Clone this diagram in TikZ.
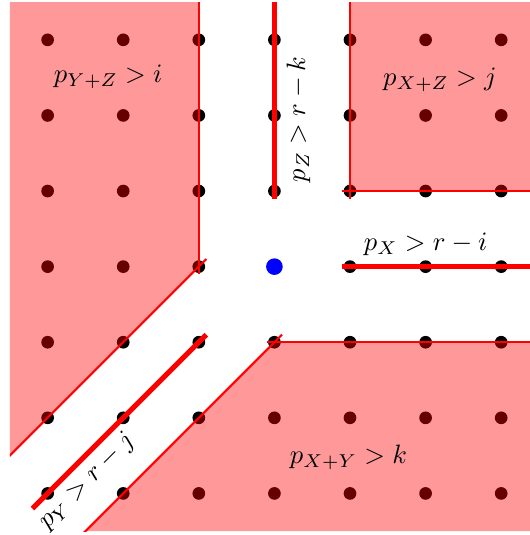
\documentclass[tikz,border=0pt]{standalone}
\begin{document}
\begin{tikzpicture}[x=1cm,y=1cm,
  gdot/.style={fill=black},
  region/.style={fill=red,fill opacity=0.4},
  bline/.style={draw=red,line width=0.8pt},
  tline/.style={draw=red,line width=1.9pt},
  lab/.style={font=\normalsize}]
\useasboundingbox (-3.63,-3.55) rectangle (3.368,3.527);
% grid dots
\foreach \x in {-3,...,3}{
  \foreach \y in {-3,...,3}{
    \fill[gdot] (\x,\y) circle (0.084);
  }
}
\node[circle,fill=blue,inner sep=0pt,minimum size=0.22cm] (o) at (0,0) {};
\begin{scope}
\clip (-3.5,-3.5) rectangle (3.5,3.5);
% regions
\fill[region] (-3.5,3.5) -- (-1,3.5) -- (-1,0) -- (-3.5,-2.5) -- cycle;
\fill[region] (1,3.5) -- (3.5,3.5) -- (3.5,1) -- (1,1) -- cycle;
\fill[region] (-2.5,-3.5) -- (0,-1) -- (3.5,-1) -- (3.5,-3.5) -- cycle;
% boundary lines
\draw[bline] (-1,3.5) -- (-1,-0.1);
\draw[bline] (-0.9,0.1) -- (-3.6,-2.6);
\draw[bline] (1,3.5) -- (1,0.9);
\draw[bline] (0.9,1) -- (3.6,1);
\draw[bline] (-0.1,-1) -- (3.6,-1);
\draw[bline] (0.1,-0.9) -- (-2.6,-3.6);
% thick lines
\coordinate (za) at (0,3.6);
\coordinate (zb) at (0,0.9);
\coordinate (xa) at (0.9,0);
\coordinate (xb) at (3.6,0);
\coordinate (ya) at (-0.9,-0.9);
\coordinate (yb) at (-3.2,-3.2);
\draw[tline] (za) -- (zb);
\draw[tline] (xa) -- (xb);
\draw[tline] (ya) -- (yb);
\end{scope}
% labels
\node[lab] (lyz) at (-2.2,2.51) {$p_{Y+Z} > i$};
\node[lab] (lxz) at (2.19,2.47) {$p_{X+Z} > j$};
\node[lab] (lxy) at (0.98,-2.52) {$p_{X+Y} > k$};
\node[lab] (lx) at (2.0,0.29) {$p_X > r-i$};
\node[lab,rotate=90] (lz) at (0.32,1.95) {$p_Z > r-k$};
\node[lab,rotate=45] (ly) at (-2.48,-2.84) {$p_Y > r-j$};
\end{tikzpicture}
\end{document}
